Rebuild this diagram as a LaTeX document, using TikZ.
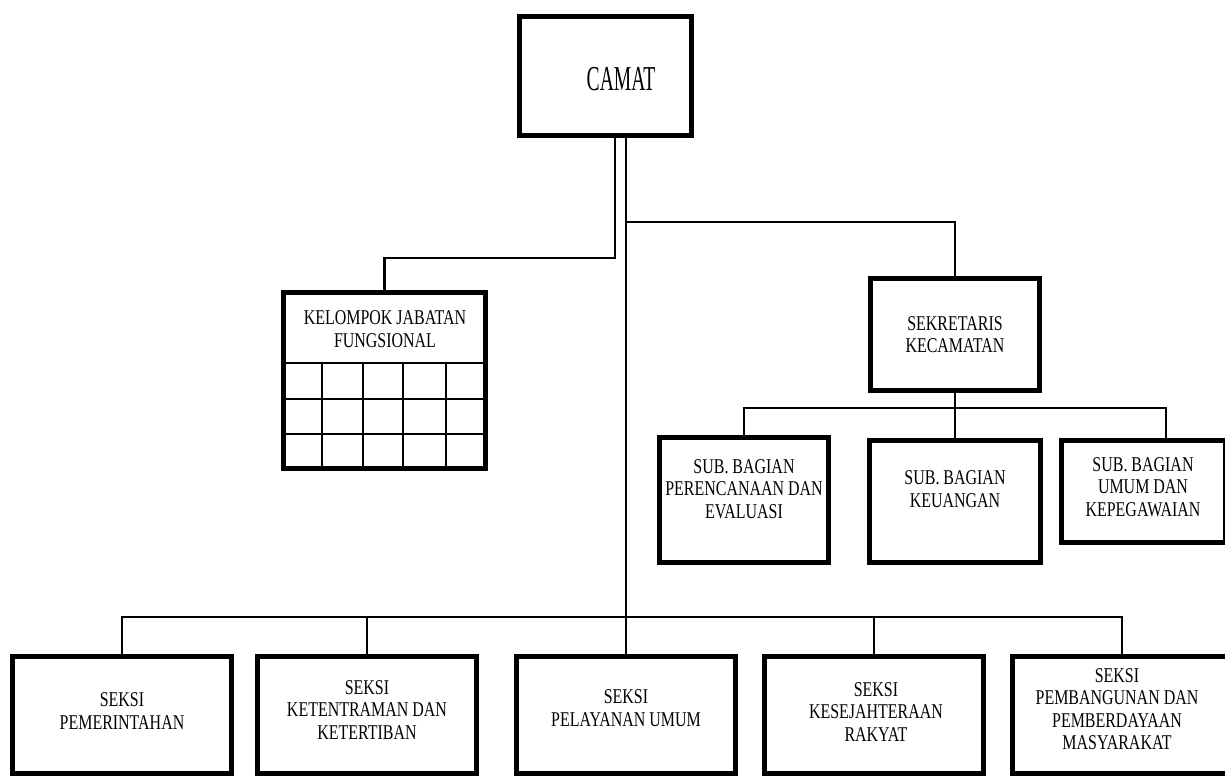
\documentclass[tikz,border=0pt]{standalone}
\usepackage{fontspec}
\setmainfont{Liberation Serif}
\newfontfamily\camatfont[FakeStretch=0.56]{Liberation Serif}
\newfontfamily\boxfont[FakeStretch=0.76]{Liberation Serif}
\begin{document}
\begin{tikzpicture}[x=1pt,y=-1pt,
  frame/.style={draw, line width=5pt, inner sep=0pt, align=center,
    font=\boxfont\fontsize{21}{22.5}\selectfont},
  txt/.style={inner sep=0pt, align=center, font=\boxfont\fontsize{21}{22.5}\selectfont},
  conn/.style={line width=2.7pt},
  gridline/.style={line width=2.8pt}]
\useasboundingbox (0,0) rectangle (1225,779);
% top
\node[frame, minimum width=172pt, minimum height=119pt] (camat) at (605,75.5) {};
\node[txt, font=\camatfont\fontsize{35}{38}\selectfont] (camatt) at (621,79) {CAMAT};
% kelompok
\node[frame, minimum width=202pt, minimum height=176pt] (kel) at (384.5,380.5) {};
\node[txt] (kelt) at (385,329) {KELOMPOK JABATAN\\FUNGSIONAL};
\draw[gridline] (283.5,363) -- (485.5,363);
\draw[gridline] (283.5,399) -- (485.5,399);
\draw[gridline] (283.5,434) -- (485.5,434);
\foreach \gx in {322,363,403,446} \draw[gridline] (\gx,363) -- (\gx,468.5);
% sekretaris
\node[frame, minimum width=169pt, minimum height=112pt] (sek) at (955,334.5) {SEKRETARIS\\KECAMATAN};
% sub bagian
\node[frame, minimum width=169pt, minimum height=125pt] (sub1) at (744,500) {};
\node[txt] (sub1t) at (744,489) {SUB. BAGIAN\\PERENCANAAN DAN\\EVALUASI};
\node[frame, minimum width=171pt, minimum height=122pt] (sub2) at (955,501.5) {};
\node[txt] (sub2t) at (955,489) {SUB. BAGIAN\\KEUANGAN};
\node[frame, minimum width=164pt, minimum height=102pt] (sub3) at (1143,491.5) {};
\node[txt] (sub3t) at (1143,487) {SUB. BAGIAN\\UMUM DAN\\KEPEGAWAIAN};
% seksi
\node[frame, minimum width=219pt, minimum height=117pt] (b1) at (122,715) {};
\node[txt] (b1t) at (122,711) {SEKSI\\PEMERINTAHAN};
\node[frame, minimum width=219pt, minimum height=117pt] (b2) at (367,715) {};
\node[txt] (b2t) at (367,710) {SEKSI\\KETENTRAMAN DAN\\KETERTIBAN};
\node[frame, minimum width=219pt, minimum height=117pt] (b3) at (626,715) {};
\node[txt] (b3t) at (626,708) {SEKSI\\PELAYANAN UMUM};
\node[frame, minimum width=219pt, minimum height=117pt] (b4) at (874,715) {};
\node[txt] (b4t) at (876,712) {SEKSI\\KESEJAHTERAAN\\RAKYAT};
\node[frame, minimum width=219pt, minimum height=117pt] (b5) at (1122,715) {};
\node[txt] (b5t) at (1117,709) {SEKSI\\PEMBANGUNAN DAN\\PEMBERDAYAAN\\MASYARAKAT};
% connectors
\coordinate (tL) at (615,258);
\coordinate (tR) at (626,222);
\coordinate (sbus) at (955,408);
\coordinate (bus) at (626,617);
\draw[conn] (camat.south -| tL) -- (tL) -| (kel.north);
\draw[conn] (camat.south -| b3.north) -- (b3.north);
\draw[conn] (tR) -| (sek.north);
\draw[conn] (sek.south) -- (sub2.north);
\draw[conn] (sub1.north) |- (sbus) -| ([xshift=23pt]sub3.north);
\draw[conn] (b1.north) |- (bus) -| (b5.north);
\draw[conn] (b2.north) -- (b2.north |- bus);
\draw[conn] (b4.north) -- (b4.north |- bus);
\end{tikzpicture}
\end{document}
